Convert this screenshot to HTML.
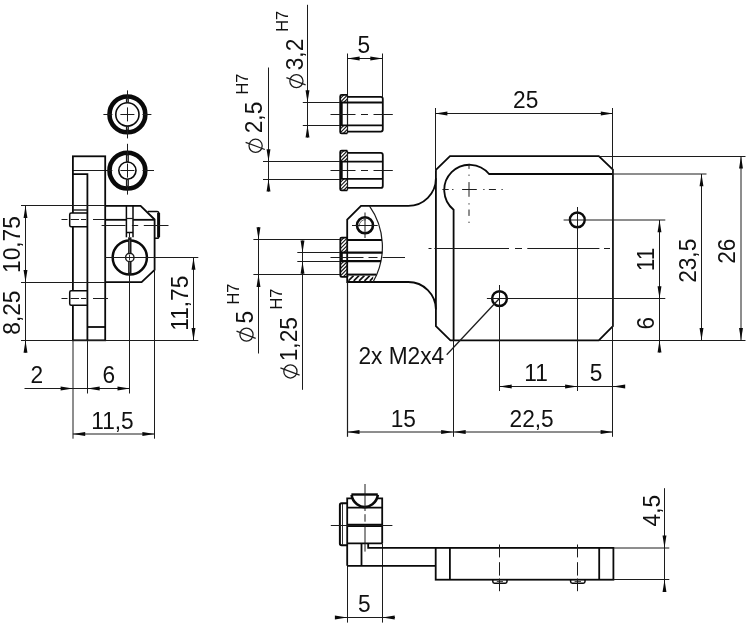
<!DOCTYPE html>
<html><head><meta charset="utf-8"><title>drawing</title>
<style>
html,body{margin:0;padding:0;background:#fff;}
svg{display:block;filter:grayscale(1);}
text{font-family:"Liberation Sans",sans-serif;fill:#111;}
</style></head><body>
<svg width="750" height="628" viewBox="0 0 750 628">
<rect x="0" y="0" width="750" height="628" fill="#fff"/>
<circle cx="127.4" cy="114.4" r="17.9" fill="none" stroke="#0a0a0a" stroke-width="4.6"/>
<circle cx="127.4" cy="114.4" r="11.6" fill="none" stroke="#0a0a0a" stroke-width="1.6"/>
<line x1="103.4" y1="114.5" x2="112.4" y2="114.5" stroke="#1c1c1c" stroke-width="1"/>
<line x1="142.4" y1="114.5" x2="151.4" y2="114.5" stroke="#1c1c1c" stroke-width="1"/>
<line x1="127.5" y1="90.4" x2="127.5" y2="99.4" stroke="#1c1c1c" stroke-width="1"/>
<line x1="127.5" y1="129.4" x2="127.5" y2="138.4" stroke="#1c1c1c" stroke-width="1"/>
<line x1="120.4" y1="114.5" x2="134.4" y2="114.5" stroke="#1c1c1c" stroke-width="1"/>
<line x1="127.5" y1="107.4" x2="127.5" y2="121.4" stroke="#1c1c1c" stroke-width="1"/>
<line x1="127.4" y1="98.4" x2="127.4" y2="102.8" stroke="#1a1a1a" stroke-width="3"/>
<line x1="127.4" y1="126" x2="127.4" y2="130.4" stroke="#1a1a1a" stroke-width="3"/>
<line x1="127.5" y1="99.4" x2="127.5" y2="101.8" stroke="#999" stroke-width="0.8"/>
<line x1="127.5" y1="127" x2="127.5" y2="129.4" stroke="#999" stroke-width="0.8"/>
<circle cx="127.4" cy="170.6" r="17.9" fill="none" stroke="#0a0a0a" stroke-width="4.6"/>
<circle cx="127.4" cy="170.6" r="8.6" fill="none" stroke="#0a0a0a" stroke-width="1.6"/>
<line x1="103.4" y1="170.5" x2="112.4" y2="170.5" stroke="#1c1c1c" stroke-width="1"/>
<line x1="142.4" y1="170.5" x2="151.4" y2="170.5" stroke="#1c1c1c" stroke-width="1"/>
<line x1="127.5" y1="146.6" x2="127.5" y2="155.6" stroke="#1c1c1c" stroke-width="1"/>
<line x1="127.5" y1="185.6" x2="127.5" y2="194.6" stroke="#1c1c1c" stroke-width="1"/>
<line x1="120.4" y1="170.5" x2="134.4" y2="170.5" stroke="#1c1c1c" stroke-width="1"/>
<line x1="127.5" y1="163.6" x2="127.5" y2="177.6" stroke="#1c1c1c" stroke-width="1"/>
<line x1="127.4" y1="154.6" x2="127.4" y2="162" stroke="#1a1a1a" stroke-width="3"/>
<line x1="127.4" y1="179.2" x2="127.4" y2="186.6" stroke="#1a1a1a" stroke-width="3"/>
<line x1="127.5" y1="155.6" x2="127.5" y2="161" stroke="#999" stroke-width="0.8"/>
<line x1="127.5" y1="180.2" x2="127.5" y2="185.6" stroke="#999" stroke-width="0.8"/>
<line x1="72.8" y1="170.5" x2="109" y2="170.5" stroke="#1c1c1c" stroke-width="1"/>
<line x1="146" y1="170.5" x2="154" y2="170.5" stroke="#1c1c1c" stroke-width="1"/>
<line x1="127.5" y1="143.8" x2="127.5" y2="150" stroke="#1c1c1c" stroke-width="1"/>
<rect x="72.9" y="156.3" width="32.3" height="184" rx="0" fill="none" stroke="#0a0a0a" stroke-width="1.8"/>
<path d="M87.4 213 H71.2 Q69.7 213 69.7 214.5 V225.3 Q69.7 226.8 71.2 226.8 H87.4" fill="#fff" stroke="#0a0a0a" stroke-width="1.5"/>
<path d="M87.4 290.7 H71.2 Q69.7 290.7 69.7 292.2 V303.8 Q69.7 305.3 71.2 305.3 H87.4" fill="#fff" stroke="#0a0a0a" stroke-width="1.5"/>
<path d="M72.9 174.2 H87.4 V340.3" fill="none" stroke="#0a0a0a" stroke-width="1.8" stroke-linejoin="miter"/>
<line x1="87.4" y1="327" x2="105.2" y2="327" stroke="#0a0a0a" stroke-width="1.8"/>
<line x1="72.9" y1="210" x2="87.4" y2="210" stroke="#1c1c1c" stroke-width="1.4"/>
<line x1="61.5" y1="219.5" x2="67.5" y2="219.5" stroke="#1c1c1c" stroke-width="1"/>
<line x1="70.6" y1="219.5" x2="79" y2="219.5" stroke="#1c1c1c" stroke-width="1"/>
<line x1="81" y1="219.5" x2="86.2" y2="219.5" stroke="#1c1c1c" stroke-width="1"/>
<line x1="93" y1="219.5" x2="123.5" y2="219.5" stroke="#1c1c1c" stroke-width="1"/>
<line x1="61.5" y1="298.5" x2="67.5" y2="298.5" stroke="#1c1c1c" stroke-width="1"/>
<line x1="70.6" y1="298.5" x2="79" y2="298.5" stroke="#1c1c1c" stroke-width="1"/>
<line x1="81" y1="298.5" x2="86.2" y2="298.5" stroke="#1c1c1c" stroke-width="1"/>
<line x1="93" y1="298.5" x2="108" y2="298.5" stroke="#1c1c1c" stroke-width="1"/>
<path d="M105.2 205.8 H140.6 L154.6 219.5 V269.9 L141.6 282.2 H105.2" fill="none" stroke="#0a0a0a" stroke-width="1.8" stroke-linejoin="miter"/>
<line x1="105.2" y1="219.8" x2="126.3" y2="219.8" stroke="#0a0a0a" stroke-width="1.8"/>
<line x1="133.1" y1="219.8" x2="154.6" y2="219.8" stroke="#0a0a0a" stroke-width="1.8"/>
<line x1="126.4" y1="205.8" x2="126.4" y2="237.3" stroke="#0a0a0a" stroke-width="1.5"/>
<line x1="133" y1="205.8" x2="133" y2="237.3" stroke="#0a0a0a" stroke-width="1.5"/>
<line x1="126.4" y1="218.5" x2="133" y2="218.5" stroke="#1c1c1c" stroke-width="1.2"/>
<line x1="126.4" y1="232.5" x2="133" y2="232.5" stroke="#0a0a0a" stroke-width="1.5"/>
<line x1="129.5" y1="232.5" x2="129.5" y2="237.3" stroke="#1c1c1c" stroke-width="1"/>
<path d="M147.8 211.5 H157 Q158.8 211.5 158.8 213.3 V236.5 Q158.8 238.3 157 238.3 H154.6" fill="none" stroke="#0a0a0a" stroke-width="1.6" stroke-linejoin="miter"/>
<line x1="158.6" y1="213" x2="158.6" y2="237" stroke="#0a0a0a" stroke-width="3"/>
<circle cx="129.8" cy="257.5" r="17.1" fill="none" stroke="#0a0a0a" stroke-width="2.5"/>
<circle cx="129.8" cy="257.5" r="4.2" fill="#fff" stroke="#1c1c1c" stroke-width="1.4"/>
<line x1="129.8" y1="237.3" x2="129.8" y2="253.3" stroke="#1a1a1a" stroke-width="3.4"/>
<line x1="129.8" y1="261.7" x2="129.8" y2="274.8" stroke="#1a1a1a" stroke-width="3.4"/>
<line x1="129.5" y1="240" x2="129.5" y2="253" stroke="#777" stroke-width="0.7"/>
<line x1="129.5" y1="262" x2="129.5" y2="272.5" stroke="#777" stroke-width="0.7"/>
<line x1="129.5" y1="254.5" x2="129.5" y2="260.5" stroke="#1c1c1c" stroke-width="0.9"/>
<line x1="101.6" y1="225.5" x2="125.5" y2="225.5" stroke="#1c1c1c" stroke-width="1"/>
<line x1="131.9" y1="225.5" x2="138.2" y2="225.5" stroke="#1c1c1c" stroke-width="1"/>
<line x1="143.8" y1="225.5" x2="168.5" y2="225.5" stroke="#1c1c1c" stroke-width="1"/>
<line x1="21" y1="205.5" x2="105" y2="205.5" stroke="#1c1c1c" stroke-width="1"/>
<line x1="21" y1="282.5" x2="105" y2="282.5" stroke="#1c1c1c" stroke-width="1"/>
<line x1="21" y1="340.5" x2="198.3" y2="340.5" stroke="#1c1c1c" stroke-width="1"/>
<line x1="105" y1="257.5" x2="198.3" y2="257.5" stroke="#1c1c1c" stroke-width="1"/>
<line x1="25.5" y1="205.8" x2="25.5" y2="352.5" stroke="#1c1c1c" stroke-width="1"/>
<polygon points="25.5,205.8 23.55,218.1 27.45,218.1" fill="#0a0a0a"/>
<polygon points="25.5,282.2 23.55,269.9 27.45,269.9" fill="#0a0a0a"/>
<polygon points="25.5,340.4 23.55,352.7 27.45,352.7" fill="#0a0a0a"/>
<line x1="193.5" y1="257.5" x2="193.5" y2="340.4" stroke="#1c1c1c" stroke-width="1"/>
<polygon points="193.5,257.5 191.55,269.8 195.45,269.8" fill="#0a0a0a"/>
<polygon points="193.5,340.4 191.55,328.1 195.45,328.1" fill="#0a0a0a"/>
<text x="0" y="0" font-size="22.7" text-anchor="middle" transform="translate(20.3 244.6) rotate(-90) scale(1 1.03)">10,75</text>
<text x="0" y="0" font-size="22.7" text-anchor="middle" transform="translate(20.3 312.6) rotate(-90) scale(1 1.03)">8,25</text>
<text x="0" y="0" font-size="22.7" text-anchor="middle" transform="translate(188.4 303.2) rotate(-90) scale(1 1.03)">11,75</text>
<line x1="73" y1="340" x2="73" y2="438.7" stroke="#1c1c1c" stroke-width="1"/>
<line x1="87.5" y1="340" x2="87.5" y2="393.5" stroke="#1c1c1c" stroke-width="1"/>
<line x1="129.5" y1="274" x2="129.5" y2="393.5" stroke="#1c1c1c" stroke-width="1"/>
<line x1="154.5" y1="270" x2="154.5" y2="438.7" stroke="#1c1c1c" stroke-width="1"/>
<line x1="24.5" y1="388.5" x2="129.8" y2="388.5" stroke="#1c1c1c" stroke-width="1"/>
<polygon points="72.9,388.5 60.6,386.55 60.6,390.45" fill="#0a0a0a"/>
<polygon points="87.4,388.5 99.7,386.55 99.7,390.45" fill="#0a0a0a"/>
<polygon points="129.8,388.5 117.5,386.55 117.5,390.45" fill="#0a0a0a"/>
<text x="0" y="0" font-size="22.7" text-anchor="middle" transform="translate(36.8 383.2) scale(1 1.03)">2</text>
<text x="0" y="0" font-size="22.7" text-anchor="middle" transform="translate(108.8 383.2) scale(1 1.03)">6</text>
<line x1="72.9" y1="434" x2="154.7" y2="434" stroke="#1c1c1c" stroke-width="1"/>
<polygon points="72.9,434 85.2,432.05 85.2,435.95" fill="#0a0a0a"/>
<polygon points="154.7,434 142.4,432.05 142.4,435.95" fill="#0a0a0a"/>
<text x="0" y="0" font-size="22.7" text-anchor="middle" transform="translate(112.5 428.8) scale(1 1.03)">11,5</text>
<clipPath id="h1"><rect x="340.2" y="94.9" width="7.1" height="7.6"/></clipPath>
<g clip-path="url(#h1)">
<line x1="332.6" y1="102.5" x2="340.2" y2="94.9" stroke="#111" stroke-width="1.15"/>
<line x1="336.3" y1="102.5" x2="343.9" y2="94.9" stroke="#111" stroke-width="1.15"/>
<line x1="340" y1="102.5" x2="347.6" y2="94.9" stroke="#111" stroke-width="1.15"/>
<line x1="343.7" y1="102.5" x2="351.3" y2="94.9" stroke="#111" stroke-width="1.15"/>
<line x1="347.4" y1="102.5" x2="355" y2="94.9" stroke="#111" stroke-width="1.15"/>
<line x1="351.1" y1="102.5" x2="358.7" y2="94.9" stroke="#111" stroke-width="1.15"/>
<line x1="354.8" y1="102.5" x2="362.4" y2="94.9" stroke="#111" stroke-width="1.15"/>
</g>
<clipPath id="h2"><rect x="340.2" y="125.4" width="7.1" height="8"/></clipPath>
<g clip-path="url(#h2)">
<line x1="332.2" y1="133.4" x2="340.2" y2="125.4" stroke="#111" stroke-width="1.15"/>
<line x1="335.9" y1="133.4" x2="343.9" y2="125.4" stroke="#111" stroke-width="1.15"/>
<line x1="339.6" y1="133.4" x2="347.6" y2="125.4" stroke="#111" stroke-width="1.15"/>
<line x1="343.3" y1="133.4" x2="351.3" y2="125.4" stroke="#111" stroke-width="1.15"/>
<line x1="347" y1="133.4" x2="355" y2="125.4" stroke="#111" stroke-width="1.15"/>
<line x1="350.7" y1="133.4" x2="358.7" y2="125.4" stroke="#111" stroke-width="1.15"/>
<line x1="354.4" y1="133.4" x2="362.4" y2="125.4" stroke="#111" stroke-width="1.15"/>
</g>
<path d="M347.3 94.9 H341.7 Q340.2 94.9 340.2 96.4 V131.9 Q340.2 133.4 341.7 133.4 H347.3" fill="none" stroke="#0a0a0a" stroke-width="1.8" stroke-linejoin="miter"/>
<line x1="347.5" y1="94.9" x2="347.5" y2="133.4" stroke="#1c1c1c" stroke-width="1.2"/>
<line x1="341.4" y1="102.5" x2="341.4" y2="125.4" stroke="#0a0a0a" stroke-width="2.6"/>
<path d="M347.3 96.8 H380.8 Q382.8 96.8 382.8 98.8 V129.6 Q382.8 131.6 380.8 131.6 H347.3" fill="none" stroke="#0a0a0a" stroke-width="1.8" stroke-linejoin="miter"/>
<line x1="340.2" y1="102.5" x2="382.8" y2="102.5" stroke="#0a0a0a" stroke-width="1.8"/>
<line x1="340.2" y1="125.4" x2="382.8" y2="125.4" stroke="#0a0a0a" stroke-width="1.8"/>
<line x1="330.5" y1="114.5" x2="355.5" y2="114.5" stroke="#1c1c1c" stroke-width="1"/>
<line x1="361" y1="114.5" x2="368" y2="114.5" stroke="#1c1c1c" stroke-width="1"/>
<line x1="373.5" y1="114.5" x2="392.8" y2="114.5" stroke="#1c1c1c" stroke-width="1"/>
<clipPath id="h3"><rect x="340.2" y="150.6" width="7.1" height="11.1"/></clipPath>
<g clip-path="url(#h3)">
<line x1="329.1" y1="161.7" x2="340.2" y2="150.6" stroke="#111" stroke-width="1.15"/>
<line x1="332.8" y1="161.7" x2="343.9" y2="150.6" stroke="#111" stroke-width="1.15"/>
<line x1="336.5" y1="161.7" x2="347.6" y2="150.6" stroke="#111" stroke-width="1.15"/>
<line x1="340.2" y1="161.7" x2="351.3" y2="150.6" stroke="#111" stroke-width="1.15"/>
<line x1="343.9" y1="161.7" x2="355" y2="150.6" stroke="#111" stroke-width="1.15"/>
<line x1="347.6" y1="161.7" x2="358.7" y2="150.6" stroke="#111" stroke-width="1.15"/>
<line x1="351.3" y1="161.7" x2="362.4" y2="150.6" stroke="#111" stroke-width="1.15"/>
<line x1="355" y1="161.7" x2="366.1" y2="150.6" stroke="#111" stroke-width="1.15"/>
</g>
<clipPath id="h4"><rect x="340.2" y="178.9" width="7.1" height="11.5"/></clipPath>
<g clip-path="url(#h4)">
<line x1="328.7" y1="190.4" x2="340.2" y2="178.9" stroke="#111" stroke-width="1.15"/>
<line x1="332.4" y1="190.4" x2="343.9" y2="178.9" stroke="#111" stroke-width="1.15"/>
<line x1="336.1" y1="190.4" x2="347.6" y2="178.9" stroke="#111" stroke-width="1.15"/>
<line x1="339.8" y1="190.4" x2="351.3" y2="178.9" stroke="#111" stroke-width="1.15"/>
<line x1="343.5" y1="190.4" x2="355" y2="178.9" stroke="#111" stroke-width="1.15"/>
<line x1="347.2" y1="190.4" x2="358.7" y2="178.9" stroke="#111" stroke-width="1.15"/>
<line x1="350.9" y1="190.4" x2="362.4" y2="178.9" stroke="#111" stroke-width="1.15"/>
<line x1="354.6" y1="190.4" x2="366.1" y2="178.9" stroke="#111" stroke-width="1.15"/>
<line x1="358.3" y1="190.4" x2="369.8" y2="178.9" stroke="#111" stroke-width="1.15"/>
</g>
<path d="M347.3 150.6 H341.7 Q340.2 150.6 340.2 152.1 V188.9 Q340.2 190.4 341.7 190.4 H347.3" fill="none" stroke="#0a0a0a" stroke-width="1.8" stroke-linejoin="miter"/>
<line x1="347.5" y1="150.6" x2="347.5" y2="190.4" stroke="#1c1c1c" stroke-width="1.2"/>
<line x1="341.4" y1="161.7" x2="341.4" y2="178.9" stroke="#0a0a0a" stroke-width="2.6"/>
<path d="M347.3 152.9 H380.8 Q382.8 152.9 382.8 154.9 V185.9 Q382.8 187.9 380.8 187.9 H347.3" fill="none" stroke="#0a0a0a" stroke-width="1.8" stroke-linejoin="miter"/>
<line x1="340.2" y1="161.7" x2="382.8" y2="161.7" stroke="#0a0a0a" stroke-width="1.8"/>
<line x1="340.2" y1="178.9" x2="382.8" y2="178.9" stroke="#0a0a0a" stroke-width="1.8"/>
<line x1="330.5" y1="170.5" x2="355.5" y2="170.5" stroke="#1c1c1c" stroke-width="1"/>
<line x1="361" y1="170.5" x2="368" y2="170.5" stroke="#1c1c1c" stroke-width="1"/>
<line x1="373.5" y1="170.5" x2="392.8" y2="170.5" stroke="#1c1c1c" stroke-width="1"/>
<line x1="347.5" y1="53.5" x2="347.5" y2="95" stroke="#1c1c1c" stroke-width="1"/>
<line x1="382.5" y1="53.5" x2="382.5" y2="97" stroke="#1c1c1c" stroke-width="1"/>
<line x1="347.3" y1="58.5" x2="382.6" y2="58.5" stroke="#1c1c1c" stroke-width="1"/>
<polygon points="347.3,58.5 359.6,56.55 359.6,60.45" fill="#0a0a0a"/>
<polygon points="382.6,58.5 370.3,56.55 370.3,60.45" fill="#0a0a0a"/>
<text x="0" y="0" font-size="22.7" text-anchor="middle" transform="translate(363.9 52.7) scale(1 1.03)">5</text>
<line x1="302.8" y1="102.5" x2="340" y2="102.5" stroke="#1c1c1c" stroke-width="1"/>
<line x1="302.8" y1="125.5" x2="340" y2="125.5" stroke="#1c1c1c" stroke-width="1"/>
<line x1="307.5" y1="4.8" x2="307.5" y2="137.5" stroke="#1c1c1c" stroke-width="1"/>
<polygon points="307.5,102.5 305.55,90.2 309.45,90.2" fill="#0a0a0a"/>
<polygon points="307.5,125.3 305.55,137.6 309.45,137.6" fill="#0a0a0a"/>
<text x="0" y="0" font-size="22.7" text-anchor="middle" transform="translate(303.2 54.5) rotate(-90) scale(1 1.03)">3,2</text>
<circle cx="296.4" cy="81.1" r="6.6" fill="none" stroke="#1c1c1c" stroke-width="1.25"/>
<line x1="286.4" y1="77.6" x2="305.6" y2="84.8" stroke="#1c1c1c" stroke-width="1.25"/>
<text x="0" y="0" font-size="16.3" text-anchor="middle" transform="translate(287.6 21.4) rotate(-90) scale(1 1.03)">H7</text>
<line x1="263" y1="161.5" x2="340" y2="161.5" stroke="#1c1c1c" stroke-width="1"/>
<line x1="263" y1="179.5" x2="340" y2="179.5" stroke="#1c1c1c" stroke-width="1"/>
<line x1="268.5" y1="67.5" x2="268.5" y2="191.5" stroke="#1c1c1c" stroke-width="1"/>
<polygon points="268.5,161.6 266.55,149.3 270.45,149.3" fill="#0a0a0a"/>
<polygon points="268.5,179.2 266.55,191.5 270.45,191.5" fill="#0a0a0a"/>
<text x="0" y="0" font-size="22.7" text-anchor="middle" transform="translate(262.4 117.5) rotate(-90) scale(1 1.03)">2,5</text>
<circle cx="255.6" cy="145.8" r="6.6" fill="none" stroke="#1c1c1c" stroke-width="1.25"/>
<line x1="245.6" y1="142.3" x2="264.8" y2="149.5" stroke="#1c1c1c" stroke-width="1.25"/>
<text x="0" y="0" font-size="16.3" text-anchor="middle" transform="translate(247.8 84.2) rotate(-90) scale(1 1.03)">H7</text>
<path d="M435.9 178.3 A27.6 27.6 0 0 1 408.3 205.9 H361 L347.2 219.7 V282 H408.3 A27.6 27.6 0 0 1 435.9 309.6" fill="none" stroke="#0a0a0a" stroke-width="1.8" stroke-linejoin="miter"/>
<path d="M369.4 205.9 A71 71 0 0 1 373.2 281.8" fill="none" stroke="#1c1c1c" stroke-width="1.2" stroke-linejoin="miter"/>
<circle cx="365" cy="225.3" r="8" fill="none" stroke="#0a0a0a" stroke-width="2.6"/>
<path d="M359.5 226.3 A5.6 5.6 0 0 1 366 219.8" fill="none" stroke="#555" stroke-width="0.9" stroke-linejoin="miter"/>
<line x1="352" y1="225.5" x2="377.7" y2="225.5" stroke="#1c1c1c" stroke-width="1"/>
<line x1="365" y1="212.5" x2="365" y2="238" stroke="#1c1c1c" stroke-width="1"/>
<clipPath id="h5"><rect x="340.3" y="237.6" width="6.9" height="14.9"/></clipPath>
<g clip-path="url(#h5)">
<line x1="325.4" y1="252.5" x2="340.3" y2="237.6" stroke="#111" stroke-width="1.15"/>
<line x1="329.1" y1="252.5" x2="344" y2="237.6" stroke="#111" stroke-width="1.15"/>
<line x1="332.8" y1="252.5" x2="347.7" y2="237.6" stroke="#111" stroke-width="1.15"/>
<line x1="336.5" y1="252.5" x2="351.4" y2="237.6" stroke="#111" stroke-width="1.15"/>
<line x1="340.2" y1="252.5" x2="355.1" y2="237.6" stroke="#111" stroke-width="1.15"/>
<line x1="343.9" y1="252.5" x2="358.8" y2="237.6" stroke="#111" stroke-width="1.15"/>
<line x1="347.6" y1="252.5" x2="362.5" y2="237.6" stroke="#111" stroke-width="1.15"/>
<line x1="351.3" y1="252.5" x2="366.2" y2="237.6" stroke="#111" stroke-width="1.15"/>
<line x1="355" y1="252.5" x2="369.9" y2="237.6" stroke="#111" stroke-width="1.15"/>
<line x1="358.7" y1="252.5" x2="373.6" y2="237.6" stroke="#111" stroke-width="1.15"/>
</g>
<clipPath id="h6"><rect x="340.3" y="261.2" width="6.9" height="15.7"/></clipPath>
<g clip-path="url(#h6)">
<line x1="324.6" y1="276.9" x2="340.3" y2="261.2" stroke="#111" stroke-width="1.15"/>
<line x1="328.3" y1="276.9" x2="344" y2="261.2" stroke="#111" stroke-width="1.15"/>
<line x1="332" y1="276.9" x2="347.7" y2="261.2" stroke="#111" stroke-width="1.15"/>
<line x1="335.7" y1="276.9" x2="351.4" y2="261.2" stroke="#111" stroke-width="1.15"/>
<line x1="339.4" y1="276.9" x2="355.1" y2="261.2" stroke="#111" stroke-width="1.15"/>
<line x1="343.1" y1="276.9" x2="358.8" y2="261.2" stroke="#111" stroke-width="1.15"/>
<line x1="346.8" y1="276.9" x2="362.5" y2="261.2" stroke="#111" stroke-width="1.15"/>
<line x1="350.5" y1="276.9" x2="366.2" y2="261.2" stroke="#111" stroke-width="1.15"/>
<line x1="354.2" y1="276.9" x2="369.9" y2="261.2" stroke="#111" stroke-width="1.15"/>
<line x1="357.9" y1="276.9" x2="373.6" y2="261.2" stroke="#111" stroke-width="1.15"/>
<line x1="361.6" y1="276.9" x2="377.3" y2="261.2" stroke="#111" stroke-width="1.15"/>
</g>
<path d="M347.2 237.6 H341.8 Q340.3 237.6 340.3 239.1 V275.4 Q340.3 276.9 341.8 276.9 H347.2" fill="none" stroke="#0a0a0a" stroke-width="1.8" stroke-linejoin="miter"/>
<line x1="341.5" y1="252.5" x2="341.5" y2="261.2" stroke="#0a0a0a" stroke-width="2.6"/>
<line x1="347.2" y1="240" x2="382" y2="240" stroke="#0a0a0a" stroke-width="2"/>
<line x1="340.3" y1="252.6" x2="382.4" y2="252.6" stroke="#0a0a0a" stroke-width="2.1"/>
<line x1="340.3" y1="261.1" x2="381" y2="261.1" stroke="#0a0a0a" stroke-width="2.1"/>
<line x1="347.2" y1="274.6" x2="376.3" y2="274.6" stroke="#0a0a0a" stroke-width="2"/>
<clipPath id="h7"><rect x="348.2" y="275.6" width="25" height="5.3"/></clipPath>
<g clip-path="url(#h7)">
<line x1="342.9" y1="280.9" x2="348.2" y2="275.6" stroke="#111" stroke-width="1.7"/>
<line x1="348.3" y1="280.9" x2="353.6" y2="275.6" stroke="#111" stroke-width="1.7"/>
<line x1="353.7" y1="280.9" x2="359" y2="275.6" stroke="#111" stroke-width="1.7"/>
<line x1="359.1" y1="280.9" x2="364.4" y2="275.6" stroke="#111" stroke-width="1.7"/>
<line x1="364.5" y1="280.9" x2="369.8" y2="275.6" stroke="#111" stroke-width="1.7"/>
<line x1="369.9" y1="280.9" x2="375.2" y2="275.6" stroke="#111" stroke-width="1.7"/>
<line x1="375.3" y1="280.9" x2="380.6" y2="275.6" stroke="#111" stroke-width="1.7"/>
</g>
<line x1="330.5" y1="257.5" x2="363.5" y2="257.5" stroke="#1c1c1c" stroke-width="1"/>
<line x1="368.5" y1="257.5" x2="377.5" y2="257.5" stroke="#1c1c1c" stroke-width="1"/>
<line x1="382.5" y1="257.5" x2="405" y2="257.5" stroke="#1c1c1c" stroke-width="1"/>
<line x1="253.4" y1="239.5" x2="340" y2="239.5" stroke="#1c1c1c" stroke-width="1"/>
<line x1="253.4" y1="274.5" x2="340" y2="274.5" stroke="#1c1c1c" stroke-width="1"/>
<line x1="297.3" y1="252.5" x2="340" y2="252.5" stroke="#1c1c1c" stroke-width="1"/>
<line x1="297.3" y1="261.5" x2="340" y2="261.5" stroke="#1c1c1c" stroke-width="1"/>
<line x1="258.5" y1="227.2" x2="258.5" y2="353.5" stroke="#1c1c1c" stroke-width="1"/>
<polygon points="258.5,239.5 256.55,227.2 260.45,227.2" fill="#0a0a0a"/>
<polygon points="258.5,274.6 256.55,286.9 260.45,286.9" fill="#0a0a0a"/>
<line x1="302.5" y1="240.6" x2="302.5" y2="389.8" stroke="#1c1c1c" stroke-width="1"/>
<polygon points="302.5,252.7 300.55,240.4 304.45,240.4" fill="#0a0a0a"/>
<polygon points="302.5,261.4 300.55,273.7 304.45,273.7" fill="#0a0a0a"/>
<text x="0" y="0" font-size="22.7" text-anchor="middle" transform="translate(253.3 317.3) rotate(-90) scale(1 1.03)">5</text>
<circle cx="246.5" cy="334.6" r="6.6" fill="none" stroke="#1c1c1c" stroke-width="1.25"/>
<line x1="236.5" y1="331.1" x2="255.7" y2="338.3" stroke="#1c1c1c" stroke-width="1.25"/>
<text x="0" y="0" font-size="16.3" text-anchor="middle" transform="translate(239 294) rotate(-90) scale(1 1.03)">H7</text>
<text x="0" y="0" font-size="22.7" text-anchor="middle" transform="translate(297 339.2) rotate(-90) scale(1 1.03)">1,25</text>
<circle cx="290.4" cy="371.4" r="6.6" fill="none" stroke="#1c1c1c" stroke-width="1.25"/>
<line x1="280.4" y1="367.9" x2="299.6" y2="375.1" stroke="#1c1c1c" stroke-width="1.25"/>
<text x="0" y="0" font-size="16.3" text-anchor="middle" transform="translate(282.1 299) rotate(-90) scale(1 1.03)">H7</text>
<path d="M435.9 169.9 L450 156.2 H598.8 L612.9 169.7 V326.1 L598.8 340.3 H450.4 L435.9 326.1 Z" fill="none" stroke="#0a0a0a" stroke-width="1.8" stroke-linejoin="miter"/>
<path d="M612.9 174 H489.1 A25.3 25.3 0 1 0 453.6 209.7 V340.3" fill="none" stroke="#0a0a0a" stroke-width="1.8" stroke-linejoin="miter"/>
<line x1="442.4" y1="189.5" x2="448.7" y2="189.5" stroke="#1c1c1c" stroke-width="1"/>
<line x1="452.2" y1="189.5" x2="453.4" y2="189.5" stroke="#1c1c1c" stroke-width="1"/>
<line x1="462.1" y1="189.5" x2="476.8" y2="189.5" stroke="#1c1c1c" stroke-width="1"/>
<line x1="483.3" y1="189.5" x2="484.5" y2="189.5" stroke="#1c1c1c" stroke-width="1"/>
<line x1="488.9" y1="189.5" x2="495.9" y2="189.5" stroke="#1c1c1c" stroke-width="1"/>
<line x1="501.5" y1="189.5" x2="502.7" y2="189.5" stroke="#1c1c1c" stroke-width="1"/>
<line x1="469" y1="163.9" x2="469" y2="168.9" stroke="#1c1c1c" stroke-width="1"/>
<line x1="469" y1="174.6" x2="469" y2="175.8" stroke="#1c1c1c" stroke-width="1"/>
<line x1="469" y1="182.1" x2="469" y2="196.8" stroke="#1c1c1c" stroke-width="1"/>
<line x1="469" y1="203.3" x2="469" y2="204.5" stroke="#1c1c1c" stroke-width="1"/>
<line x1="469" y1="209.5" x2="469" y2="215.9" stroke="#1c1c1c" stroke-width="1"/>
<line x1="469" y1="221.7" x2="469" y2="222.9" stroke="#1c1c1c" stroke-width="1"/>
<line x1="428.5" y1="248.5" x2="431.5" y2="248.5" stroke="#1c1c1c" stroke-width="1"/>
<line x1="434.4" y1="248.5" x2="509" y2="248.5" stroke="#1c1c1c" stroke-width="1"/>
<line x1="515" y1="248.5" x2="522" y2="248.5" stroke="#1c1c1c" stroke-width="1"/>
<line x1="527.3" y1="248.5" x2="599.4" y2="248.5" stroke="#1c1c1c" stroke-width="1"/>
<line x1="604" y1="248.5" x2="610" y2="248.5" stroke="#1c1c1c" stroke-width="1"/>
<circle cx="577.3" cy="219.9" r="7.4" fill="none" stroke="#0a0a0a" stroke-width="2.4"/>
<circle cx="499.5" cy="298.6" r="7.4" fill="none" stroke="#0a0a0a" stroke-width="2.4"/>
<line x1="563.6" y1="220" x2="665.3" y2="220" stroke="#1c1c1c" stroke-width="1"/>
<line x1="486.9" y1="298.5" x2="665.3" y2="298.5" stroke="#1c1c1c" stroke-width="1"/>
<line x1="577.5" y1="207" x2="577.5" y2="391" stroke="#1c1c1c" stroke-width="1"/>
<line x1="499.5" y1="285" x2="499.5" y2="391" stroke="#1c1c1c" stroke-width="1"/>
<line x1="499.4" y1="298.5" x2="446.7" y2="354.7" stroke="#1c1c1c" stroke-width="1.25"/>
<text x="0" y="0" font-size="22.7" text-anchor="start" transform="translate(358.4 363.6) scale(1 1.03)">2x M2x4</text>
<line x1="435.5" y1="108" x2="435.5" y2="171" stroke="#1c1c1c" stroke-width="1"/>
<line x1="612.5" y1="108" x2="612.5" y2="436.8" stroke="#1c1c1c" stroke-width="1"/>
<line x1="435.6" y1="113.5" x2="612.6" y2="113.5" stroke="#1c1c1c" stroke-width="1"/>
<polygon points="435.1,113.5 447.4,111.55 447.4,115.45" fill="#0a0a0a"/>
<polygon points="613.1,113.5 600.8,111.55 600.8,115.45" fill="#0a0a0a"/>
<text x="0" y="0" font-size="22.7" text-anchor="middle" transform="translate(525.7 107.6) scale(1 1.03)">25</text>
<line x1="598.8" y1="156.5" x2="745.5" y2="156.5" stroke="#1c1c1c" stroke-width="1"/>
<line x1="612.9" y1="174" x2="706.5" y2="174" stroke="#1c1c1c" stroke-width="1"/>
<line x1="598.8" y1="340.5" x2="745.5" y2="340.5" stroke="#1c1c1c" stroke-width="1"/>
<line x1="659.5" y1="220" x2="659.5" y2="352.5" stroke="#1c1c1c" stroke-width="1"/>
<polygon points="659.5,220 657.55,232.3 661.45,232.3" fill="#0a0a0a"/>
<polygon points="659.5,298.5 657.55,286.2 661.45,286.2" fill="#0a0a0a"/>
<polygon points="659.5,340.3 657.55,352.6 661.45,352.6" fill="#0a0a0a"/>
<line x1="701.5" y1="174" x2="701.5" y2="340.3" stroke="#1c1c1c" stroke-width="1"/>
<polygon points="701.5,174 699.55,186.3 703.45,186.3" fill="#0a0a0a"/>
<polygon points="701.5,340.3 699.55,328 703.45,328" fill="#0a0a0a"/>
<line x1="741" y1="156.2" x2="741" y2="340.3" stroke="#1c1c1c" stroke-width="1"/>
<polygon points="741,156.2 739.05,168.5 742.95,168.5" fill="#0a0a0a"/>
<polygon points="741,340.3 739.05,328 742.95,328" fill="#0a0a0a"/>
<text x="0" y="0" font-size="22.7" text-anchor="middle" transform="translate(654 259.5) rotate(-90) scale(1 1.03)">11</text>
<text x="0" y="0" font-size="22.7" text-anchor="middle" transform="translate(654 323.2) rotate(-90) scale(1 1.03)">6</text>
<text x="0" y="0" font-size="22.7" text-anchor="middle" transform="translate(696.4 260.8) rotate(-90) scale(1 1.03)">23,5</text>
<text x="0" y="0" font-size="22.7" text-anchor="middle" transform="translate(735 251.2) rotate(-90) scale(1 1.03)">26</text>
<line x1="347.5" y1="281.8" x2="347.5" y2="436.8" stroke="#1c1c1c" stroke-width="1.2"/>
<line x1="453.5" y1="340.3" x2="453.5" y2="436.8" stroke="#1c1c1c" stroke-width="1"/>
<line x1="499.4" y1="386.5" x2="625" y2="386.5" stroke="#1c1c1c" stroke-width="1"/>
<polygon points="499.4,386.5 511.7,384.55 511.7,388.45" fill="#0a0a0a"/>
<polygon points="577.4,386.5 565.1,384.55 565.1,388.45" fill="#0a0a0a"/>
<polygon points="612.9,386.5 625.2,384.55 625.2,388.45" fill="#0a0a0a"/>
<text x="0" y="0" font-size="22.7" text-anchor="middle" transform="translate(536 381) scale(1 1.03)">11</text>
<text x="0" y="0" font-size="22.7" text-anchor="middle" transform="translate(596 381) scale(1 1.03)">5</text>
<line x1="347.2" y1="432" x2="612.9" y2="432" stroke="#1c1c1c" stroke-width="1"/>
<polygon points="347.2,432 359.5,430.05 359.5,433.95" fill="#0a0a0a"/>
<polygon points="453.4,432 441.1,430.05 441.1,433.95" fill="#0a0a0a"/>
<polygon points="453.4,432 465.7,430.05 465.7,433.95" fill="#0a0a0a"/>
<polygon points="612.9,432 600.6,430.05 600.6,433.95" fill="#0a0a0a"/>
<text x="0" y="0" font-size="22.7" text-anchor="middle" transform="translate(403.3 426.7) scale(1 1.03)">15</text>
<text x="0" y="0" font-size="22.7" text-anchor="middle" transform="translate(531.6 426.7) scale(1 1.03)">22,5</text>
<path d="M347.2 503.2 H341.6 Q339.9 503.2 339.9 504.9 V543.5 Q339.9 545.2 341.6 545.2 H347.2" fill="none" stroke="#0a0a0a" stroke-width="2" stroke-linejoin="miter"/>
<line x1="342.5" y1="504" x2="342.5" y2="544.5" stroke="#1c1c1c" stroke-width="0.9"/>
<path d="M347.2 565.7 V498.3 H352.5" fill="none" stroke="#0a0a0a" stroke-width="1.8" stroke-linejoin="miter"/>
<path d="M376.8 498.3 H382.2 V543.3" fill="none" stroke="#0a0a0a" stroke-width="1.8" stroke-linejoin="miter"/>
<line x1="351.4" y1="494.5" x2="377.8" y2="494.5" stroke="#0a0a0a" stroke-width="2.4"/>
<path d="M351.6 494.8 Q352.2 500.5 357 504.2 Q364.7 510 372.4 504.2 Q377.2 500.5 377.8 494.8" fill="none" stroke="#0a0a0a" stroke-width="2.6" stroke-linejoin="miter"/>
<line x1="347.2" y1="507.6" x2="382.2" y2="507.6" stroke="#0a0a0a" stroke-width="1.8"/>
<line x1="347.2" y1="525.3" x2="382.2" y2="525.3" stroke="#0a0a0a" stroke-width="3.2"/>
<line x1="350" y1="525.5" x2="380" y2="525.5" stroke="#ddd" stroke-width="0.8" stroke-dasharray="7 3 3 3"/>
<line x1="347.2" y1="543.3" x2="382.2" y2="543.3" stroke="#0a0a0a" stroke-width="1.8"/>
<line x1="382.5" y1="543.3" x2="382.5" y2="622.6" stroke="#1c1c1c" stroke-width="1"/>
<line x1="347.5" y1="565.7" x2="347.5" y2="622.6" stroke="#1c1c1c" stroke-width="1"/>
<path d="M368.2 543.3 V547.8 H435.7" fill="none" stroke="#0a0a0a" stroke-width="1.8" stroke-linejoin="miter"/>
<line x1="347.2" y1="565.8" x2="435.7" y2="565.8" stroke="#0a0a0a" stroke-width="1.8"/>
<line x1="361.5" y1="543.3" x2="361.5" y2="565.8" stroke="#0a0a0a" stroke-width="1.8"/>
<rect x="435.7" y="547.9" width="177.7" height="31.8" rx="0" fill="none" stroke="#0a0a0a" stroke-width="1.8"/>
<line x1="449.9" y1="547.9" x2="449.9" y2="579.7" stroke="#0a0a0a" stroke-width="1.8"/>
<line x1="599.2" y1="547.9" x2="599.2" y2="579.7" stroke="#0a0a0a" stroke-width="1.8"/>
<path d="M492.8 579.7 V581.5 Q492.8 583.2 494.5 583.2 H505.3 Q507 583.2 507 581.5 V579.7" fill="none" stroke="#0a0a0a" stroke-width="1.5" stroke-linejoin="miter"/>
<line x1="496.8" y1="581.5" x2="503" y2="581.5" stroke="#1c1c1c" stroke-width="0.8"/>
<path d="M570.6 579.7 V581.5 Q570.6 583.2 572.3 583.2 H583.3 Q585 583.2 585 581.5 V579.7" fill="none" stroke="#0a0a0a" stroke-width="1.5" stroke-linejoin="miter"/>
<line x1="574.6" y1="581.5" x2="581" y2="581.5" stroke="#1c1c1c" stroke-width="0.8"/>
<line x1="499.5" y1="544.5" x2="499.5" y2="557.4" stroke="#1c1c1c" stroke-width="1"/>
<line x1="499.5" y1="562.2" x2="499.5" y2="575.6" stroke="#1c1c1c" stroke-width="1"/>
<line x1="499.5" y1="578.5" x2="499.5" y2="591.2" stroke="#1c1c1c" stroke-width="1"/>
<line x1="577.5" y1="544.5" x2="577.5" y2="557.4" stroke="#1c1c1c" stroke-width="1"/>
<line x1="577.5" y1="562.2" x2="577.5" y2="575.6" stroke="#1c1c1c" stroke-width="1"/>
<line x1="577.5" y1="578.5" x2="577.5" y2="591.2" stroke="#1c1c1c" stroke-width="1"/>
<line x1="330.8" y1="525.5" x2="392.4" y2="525.5" stroke="#1c1c1c" stroke-width="1"/>
<line x1="365" y1="484" x2="365" y2="511" stroke="#1c1c1c" stroke-width="1"/>
<line x1="365" y1="514.2" x2="365" y2="521.7" stroke="#1c1c1c" stroke-width="1"/>
<line x1="365" y1="525.3" x2="365" y2="551.6" stroke="#1c1c1c" stroke-width="1"/>
<line x1="335.3" y1="617.5" x2="395" y2="617.5" stroke="#1c1c1c" stroke-width="1"/>
<polygon points="347.2,617.5 334.9,615.55 334.9,619.45" fill="#0a0a0a"/>
<polygon points="382.4,617.5 394.7,615.55 394.7,619.45" fill="#0a0a0a"/>
<text x="0" y="0" font-size="22.7" text-anchor="middle" transform="translate(364.3 611.6) scale(1 1.03)">5</text>
<line x1="613.4" y1="548" x2="669.3" y2="548" stroke="#1c1c1c" stroke-width="1"/>
<line x1="613.4" y1="579.5" x2="669.3" y2="579.5" stroke="#1c1c1c" stroke-width="1"/>
<line x1="664.5" y1="488.2" x2="664.5" y2="591" stroke="#1c1c1c" stroke-width="1"/>
<polygon points="664.5,547.9 662.55,535.6 666.45,535.6" fill="#0a0a0a"/>
<polygon points="664.5,579.7 662.55,592 666.45,592" fill="#0a0a0a"/>
<text x="0" y="0" font-size="22.7" text-anchor="middle" transform="translate(660 510.6) rotate(-90) scale(1 1.03)">4,5</text>
</svg>
</body></html>
